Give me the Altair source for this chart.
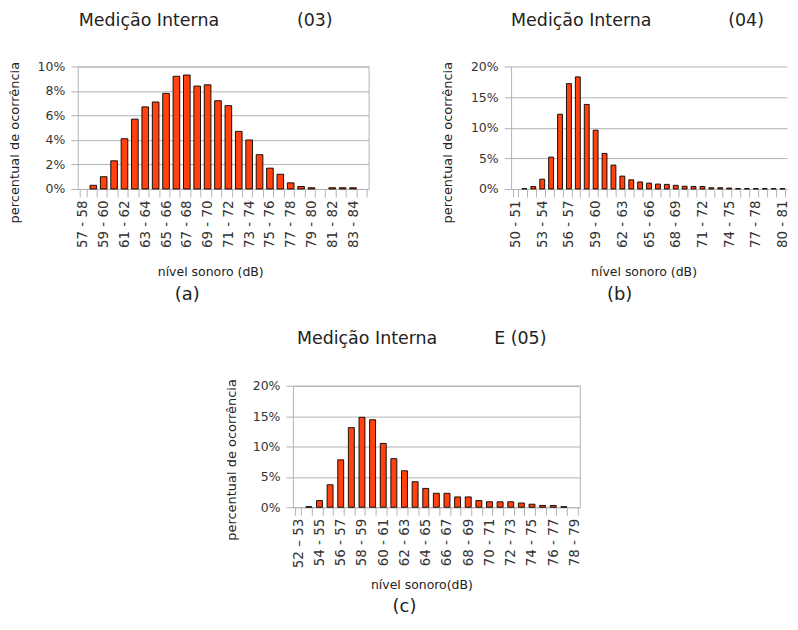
import json
import altair as alt
import pandas as pd

# ---------------- data ----------------
a_cats = ["57 - 58", "58 - 59", "59 - 60", "60 - 61", "61 - 62", "62 - 63", "63 - 64",
          "64 - 65", "65 - 66", "66 - 67", "67 - 68", "68 - 69", "69 - 70", "70 - 71",
          "71 - 72", "72 - 73", "73 - 74", "74 - 75", "75 - 76", "76 - 77", "77 - 78",
          "78 - 79", "79 - 80", "80 - 81", "81 - 82", "82 - 83", "83 - 84", "84 - 85"]
a_vals = [0, 0.3, 1.0, 2.3, 4.1, 5.7, 6.7, 7.1, 7.8, 9.2, 9.3, 8.4, 8.5, 7.2,
          6.8, 4.7, 4.0, 2.8, 1.7, 1.2, 0.5, 0.2, 0.1, 0, 0.1, 0.1, 0.1, 0]
a_ticklabels = ["57 - 58", "59 - 60", "61 - 62", "63 - 64", "65 - 66", "67 - 68", "69 - 70",
                "71 - 72", "73 - 74", "75 - 76", "77 - 78", "79 - 80", "81 - 82", "83 - 84"]
a_yticks = [0, 2, 4, 6, 8, 10]

b_cats = ["50 - 51", "51 - 52", "52 - 53", "53 - 54", "54 - 55", "55 - 56", "56 - 57",
          "57 - 58", "58 - 59", "59 - 60", "60 - 61", "61 - 62", "62 - 63", "63 - 64",
          "64 - 65", "65 - 66", "66 - 67", "67 - 68", "68 - 69", "69 - 70", "70 - 71",
          "71 - 72", "72 - 73", "73 - 74", "74 - 75", "75 - 76", "76 - 77", "77 - 78",
          "78 - 79", "79 - 80", "80 - 81"]
b_vals = [0, 0.05, 0.4, 1.6, 5.2, 12.2, 17.2, 18.3, 13.8, 9.6, 5.8, 3.9, 2.1, 1.5,
          1.15, 0.95, 0.8, 0.75, 0.6, 0.45, 0.4, 0.4, 0.2, 0.2, 0.15, 0.05, 0.05, 0.05,
          0.05, 0.05, 0.05]
b_ticklabels = ["50 - 51", "53 - 54", "56 - 57", "59 - 60", "62 - 63", "65 - 66",
                "68 - 69", "71 - 72", "74 - 75", "77 - 78", "80 - 81"]
b_yticks = [0, 5, 10, 15, 20]

c_cats = ["52 \u2013 53", "53 - 54", "54 - 55", "55 - 56", "56 - 57", "57 - 58", "58 - 59",
          "59 - 60", "60 - 61", "61 - 62", "62 - 63", "63 - 64", "64 - 65", "65 - 66",
          "66 - 67", "67 - 68", "68 - 69", "69 - 70", "70 - 71", "71 - 72", "72 - 73",
          "73 - 74", "74 - 75", "75 - 76", "76 - 77", "77 - 78", "78 - 79"]
c_vals = [0, 0.1, 1.1, 3.7, 7.8, 13.1, 14.8, 14.4, 10.5, 8.0, 6.0, 4.2, 3.1, 2.3,
          2.3, 1.7, 1.7, 1.1, 0.9, 0.9, 0.9, 0.7, 0.5, 0.3, 0.3, 0.1, 0]
c_ticklabels = ["52 \u2013 53", "54 - 55", "56 - 57", "58 - 59", "60 - 61", "62 - 63",
                "64 - 65", "66 - 67", "68 - 69", "70 - 71", "72 - 73", "74 - 75",
                "76 - 77", "78 - 79"]
c_yticks = [0, 5, 10, 15, 20]

panel_titles = ["Medição Interna", "Medição Interna", "Medição Interna"]
panel_tags = ["(03)", "(04)", "E (05)"]
captions = ["(a)", "(b)", "(c)"]
x_titles = ["nível sonoro (dB)", "nível sonoro (dB)", "nível sonoro(dB)"]
y_title = "percentual de ocorrência"

# ---------------- style ----------------
FONT = "DejaVu Sans"
BAR = "#ff420e"
GRID = "#b3b3b3"
TXT = "#222222"


def panel(cats, vals, shown, yticks, width, height, pad_inner, idx,
          title_x, tag_x, title_y, cap_x, cap_y, xt_x, xt_y, yt_x, yt_y, frame):
    df = pd.DataFrame({"cat": cats, "v": vals})
    label_expr = ("indexof(" + json.dumps(shown, ensure_ascii=False)
                  + ", datum.value) >= 0 ? datum.value : ''")
    bars = alt.Chart(df).transform_filter("datum.v > 0").mark_bar(
        color=BAR, stroke="#000000", strokeWidth=0.9
    ).encode(
        x=alt.X("cat:N", sort=cats,
                scale=alt.Scale(domain=cats, paddingInner=pad_inner,
                                paddingOuter=pad_inner / 2),
                axis=alt.Axis(title=x_titles[idx], labelAngle=270, labelExpr=label_expr,
                              tickBand="extent", tickSize=8, tickColor=GRID,
                              domain=False, grid=False, labelPadding=3,
                              labelFontSize=13.5, labelColor="#333333", labelFont=FONT,
                              titleFont=FONT, titleFontSize=12.5, titleFontWeight="normal",
                              titleColor=TXT, titleX=xt_x, titleY=xt_y,
                              titleBaseline="alphabetic")),
        y=alt.Y("v:Q", scale=alt.Scale(domain=[yticks[0], yticks[-1]], nice=False),
                axis=alt.Axis(title=y_title, values=yticks, labelExpr="datum.value + '%'",
                              grid=True, gridColor=GRID, tickColor=GRID, tickSize=7,
                              labelPadding=6, domain=not frame, domainColor=GRID,
                              labelFontSize=12.5, labelColor="#333333", labelFont=FONT,
                              titleFont=FONT, titleFontSize=13, titleFontWeight="normal",
                              titleColor=TXT, titleX=yt_x, titleY=yt_y)),
    )
    t1 = alt.Chart(pd.DataFrame({"t": [panel_titles[idx]]})).mark_text(
        align="left", baseline="alphabetic", font=FONT, fontSize=17.5, color=TXT
    ).encode(text="t:N", x=alt.value(title_x), y=alt.value(title_y))
    t2 = alt.Chart(pd.DataFrame({"t": [panel_tags[idx]]})).mark_text(
        align="left", baseline="alphabetic", font=FONT, fontSize=17.5, color=TXT
    ).encode(text="t:N", x=alt.value(tag_x), y=alt.value(title_y))
    cap = alt.Chart(pd.DataFrame({"t": [captions[idx]]})).mark_text(
        align="center", baseline="alphabetic", font=FONT, fontSize=18, color=TXT
    ).encode(text="t:N", x=alt.value(cap_x), y=alt.value(cap_y))
    return alt.layer(bars, t1, t2, cap).properties(
        width=width, height=height,
        view=alt.ViewBackground(stroke=GRID if frame else "transparent"),
    )


pa = panel(a_cats, a_vals, a_ticklabels, a_yticks, 292, 123, 0.36, 0,
           1, 220, -40.5, 110, 234, 133, 87, -56, 76, True)
pb = panel(b_cats, b_vals, b_ticklabels, b_yticks, 277, 123, 0.45, 1,
           0, 218, -40.5, 109, 234, 133, 87, -57, 76, False)
pc = panel(c_cats, c_vals, c_ticklabels, c_yticks, 288, 122, 0.44, 2,
           4, 202, -42, 112, 227, 129, 82, -55, 74, True)

spacer = alt.Chart(pd.DataFrame({"v": [0]})).mark_point(opacity=0).encode(
    x=alt.X("v:Q", axis=None), y=alt.Y("v:Q", axis=None)
).properties(width=216, height=10, view=alt.ViewBackground(stroke="transparent"))

row1 = alt.hconcat(pa, pb, spacing=143, bounds="flush")
row2 = alt.hconcat(spacer, pc, spacing=0, bounds="flush")
chart = alt.vconcat(row1, row2, spacing=320.5, bounds="flush").properties(
    padding={"left": 0, "top": 2.5, "right": 0, "bottom": 0}
).configure(font=FONT).configure_view(strokeWidth=1)

chart.save("out.html", embed_options={"renderer": "svg", "actions": False})
